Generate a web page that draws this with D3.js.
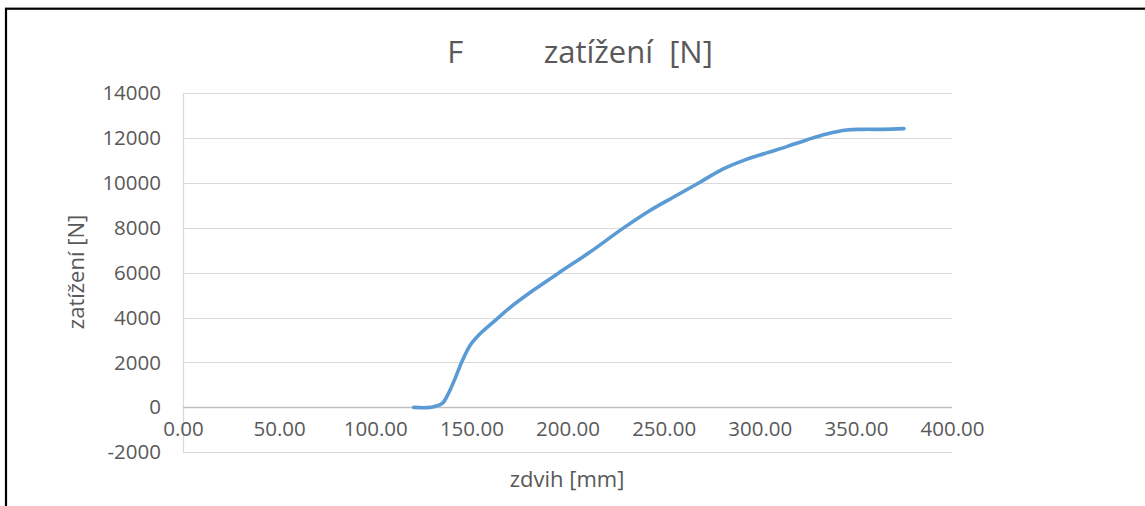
<!DOCTYPE html>
<html>
<head>
<meta charset="utf-8">
<script src="https://cdn.jsdelivr.net/npm/d3@7"></script>
<style>
  html, body { margin: 0; padding: 0; background: #fff; }
  svg text { font-family: "Open Sans", "Liberation Sans", sans-serif; fill: #595959; }
</style>
</head>
<body>
<svg id="chart" width="1145" height="506"></svg>
<script>
// ---- data ----
const strokeMm = [120, 127, 131, 135, 138, 141.5, 145, 149.3, 154.5, 161.4, 170.1, 182.2, 196.1, 211.7, 229.0, 242.9, 255.0, 268.9, 281.0, 291.4, 303.6, 314.0, 324.4, 334.8, 345.2, 353.8, 364.2, 375.0];
const loadN    = [0, -10, 40, 190, 610, 1280, 2020, 2760, 3280, 3800, 4444, 5213, 6026, 6915, 7982, 8769, 9360, 10027, 10622, 10991, 11333, 11613, 11911, 12178, 12356, 12382, 12382, 12413];
const xTicks = [0, 50, 100, 150, 200, 250, 300, 350, 400];
const yTicks = [-2000, 0, 2000, 4000, 6000, 8000, 10000, 12000, 14000];
const titleText = "F          zatížení  [N]";
const xTitle = "zdvih [mm]";
const yTitle = "zatížení [N]";

// ---- layout ----
const svg = d3.select("#chart");
const pLeft = 183, pRight = 952, pTop = 93, pBottom = 452.3;

// outer frame
svg.append("rect").attr("x", 6).attr("y", 8.7).attr("width", 1300).attr("height", 700)
  .attr("fill", "none").attr("stroke", "#000").attr("stroke-width", 2.2);

const x = d3.scaleLinear().domain([0, 400]).range([pLeft, pRight]);
const y = d3.scaleLinear().domain([-2000, 14000]).range([pBottom, pTop]);

// gridlines
svg.append("g").selectAll("line").data(yTicks.filter(d => d !== 0)).join("line")
  .attr("x1", pLeft).attr("x2", pRight)
  .attr("y1", d => Math.round(y(d)) + 0.5).attr("y2", d => Math.round(y(d)) + 0.5)
  .attr("stroke", "#D9D9D9").attr("stroke-width", 1.2);

// y axis line
svg.append("line").attr("x1", pLeft + 0.5).attr("x2", pLeft + 0.5)
  .attr("y1", pTop).attr("y2", pBottom)
  .attr("stroke", "#D9D9D9").attr("stroke-width", 1.2);

// x axis line at 0
svg.append("line").attr("x1", pLeft).attr("x2", pRight)
  .attr("y1", Math.round(y(0)) + 0.5).attr("y2", Math.round(y(0)) + 0.5)
  .attr("stroke", "#BFBFBF").attr("stroke-width", 1.4);

// y tick labels
const yAxis = d3.axisLeft(y).tickValues(yTicks).tickFormat(d => String(d)).tickSize(0).tickPadding(22);
const gy = svg.append("g").attr("transform", `translate(${pLeft},0)`).call(yAxis);
gy.select(".domain").remove();
gy.selectAll("text").attr("font-size", 20.5).attr("fill", "#595959")
  .style("font-family", '"Open Sans", sans-serif');

// x tick labels (positioned just below the zero line)
const xAxis = d3.axisBottom(x).tickValues(xTicks).tickFormat(d => d.toFixed(2)).tickSize(0).tickPadding(0);
const gx = svg.append("g").attr("transform", `translate(0,${y(0)})`).call(xAxis);
gx.select(".domain").remove();
gx.selectAll("text").attr("font-size", 20.5).attr("fill", "#595959")
  .attr("dy", null).attr("y", 29)
  .style("font-family", '"Open Sans", sans-serif');

// line
const line = d3.line().x((d, i) => x(strokeMm[i])).y((d, i) => y(loadN[i]))
  .curve(d3.curveCatmullRom.alpha(0.5));
svg.append("path").datum(loadN).attr("d", line)
  .attr("fill", "none").attr("stroke", "#5B9BD5").attr("stroke-width", 3.6)
  .attr("stroke-linecap", "round").attr("stroke-linejoin", "round");

// titles
svg.append("text").attr("x", 580).attr("y", 63).attr("text-anchor", "middle")
  .attr("font-size", 31).style("white-space", "pre").text(titleText);
svg.append("text").attr("x", 567).attr("y", 487).attr("text-anchor", "middle")
  .attr("font-size", 22).text(xTitle);
svg.append("text").attr("transform", "translate(84,272) rotate(-90)").attr("text-anchor", "middle")
  .attr("font-size", 22).text(yTitle);
</script>
</body>
</html>
